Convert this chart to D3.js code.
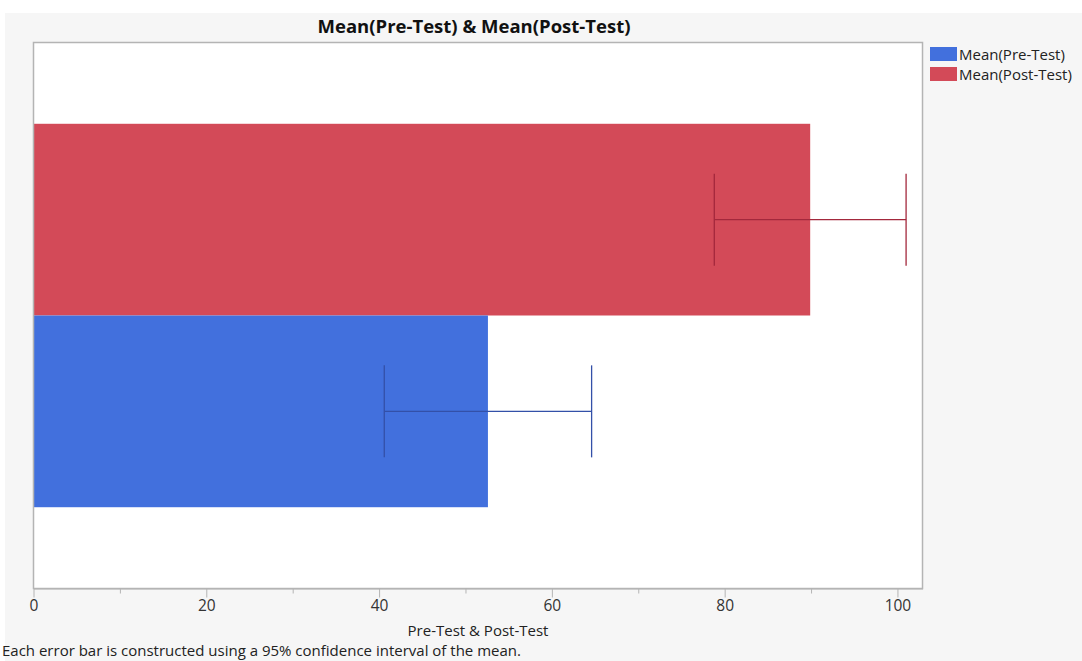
<!DOCTYPE html>
<html>
<head>
<meta charset="utf-8">
<script src="https://cdn.jsdelivr.net/npm/d3@7"></script>
<style>
  html, body { margin: 0; padding: 0; background: #ffffff; }
  svg { display: block; font-family: "Open Sans", "Noto Sans", sans-serif; }
</style>
</head>
<body>
<svg id="chart" width="1082" height="661"></svg>
<script>
// Series and their values
const series = ["Mean(Post-Test)", "Mean(Pre-Test)"];
const legendOrder = ["Mean(Pre-Test)", "Mean(Post-Test)"];
const means = [89.9, 52.6];
const ciLower = [78.8, 40.6];
const ciUpper = [101.0, 64.6];
const xTicks = [0, 20, 40, 60, 80, 100];
const xMinorTicks = [10, 30, 50, 70, 90];
const colors = { "Mean(Pre-Test)": "#4270dd", "Mean(Post-Test)": "#d34a58" };
const errColors = { "Mean(Pre-Test)": "#3350a8", "Mean(Post-Test)": "#a3283c" };

const titleText = "Mean(Pre-Test) & Mean(Post-Test)";
const xAxisTitle = "Pre-Test & Post-Test";
const footnote = "Each error bar is constructed using a 95% confidence interval of the mean.";

const svg = d3.select("#chart");
const W = 1082, H = 661;

// Panel background
svg.append("rect").attr("x", 5).attr("y", 13).attr("width", W - 5).attr("height", H - 13)
  .attr("fill", "#f6f6f6");

const plot = { left: 33.5, top: 42.5, right: 922.5, bottom: 588.5 };

const x = d3.scaleLinear().domain([0, 102.9]).range([plot.left, plot.right]);
const y = d3.scaleBand().domain(series).range([plot.top, plot.bottom])
  .paddingInner(0).paddingOuter(0.424);

// Plot area
svg.append("rect")
  .attr("x", plot.left).attr("y", plot.top)
  .attr("width", plot.right - plot.left).attr("height", plot.bottom - plot.top)
  .attr("fill", "#ffffff");

// Bars
const rows = series.map((s, i) => ({ s, m: means[i], lo: ciLower[i], hi: ciUpper[i] }));
svg.append("g").selectAll("rect").data(rows).join("rect")
  .attr("x", x(0))
  .attr("y", d => y(d.s))
  .attr("width", d => x(d.m) - x(0))
  .attr("height", y.bandwidth())
  .attr("fill", d => colors[d.s]);

// Error bars
const eg = svg.append("g").attr("fill", "none").attr("stroke-width", 1.3);
rows.forEach(d => {
  const cy = y(d.s) + y.bandwidth() / 2;
  const cap = y.bandwidth() * 0.24;
  const c = errColors[d.s];
  eg.append("line").attr("x1", x(d.lo)).attr("x2", x(d.hi)).attr("y1", cy).attr("y2", cy).attr("stroke", c);
  eg.append("line").attr("x1", x(d.lo)).attr("x2", x(d.lo)).attr("y1", cy - cap).attr("y2", cy + cap).attr("stroke", c);
  eg.append("line").attr("x1", x(d.hi)).attr("x2", x(d.hi)).attr("y1", cy - cap).attr("y2", cy + cap).attr("stroke", c);
});

// Frame
svg.append("rect")
  .attr("x", plot.left).attr("y", plot.top)
  .attr("width", plot.right - plot.left).attr("height", plot.bottom - plot.top)
  .attr("fill", "none").attr("stroke", "#b4b4b4").attr("stroke-width", 1.5);

// X axis
const xAxis = d3.axisBottom(x).tickValues(xTicks).tickSize(9).tickSizeOuter(0).tickPadding(2);
const gx = svg.append("g").attr("transform", `translate(0,${plot.bottom})`).call(xAxis);
gx.select(".domain").attr("stroke", "#b4b4b4");
gx.selectAll(".tick line").attr("stroke", "#b4b4b4");
gx.selectAll(".tick text").attr("font-size", 15.5).attr("fill", "#333").attr("font-family", "'Open Sans', sans-serif");

const minor = d3.axisBottom(x).tickValues(xMinorTicks).tickSize(5).tickFormat("");
const gm = svg.append("g").attr("transform", `translate(0,${plot.bottom})`).call(minor);
gm.select(".domain").remove();
gm.selectAll(".tick line").attr("stroke", "#b4b4b4");

// Title
svg.append("text")
  .attr("x", (plot.left + plot.right) / 2 - 4).attr("y", 33)
  .attr("text-anchor", "middle").attr("font-size", 18.5).attr("font-weight", "bold")
  .attr("fill", "#111").text(titleText);

// Axis title
svg.append("text")
  .attr("x", (plot.left + plot.right) / 2).attr("y", 636)
  .attr("text-anchor", "middle").attr("font-size", 15).attr("fill", "#222")
  .text(xAxisTitle);

// Footnote
svg.append("text")
  .attr("x", 2).attr("y", 656)
  .attr("font-size", 15).attr("fill", "#222")
  .text(footnote);

// Legend
const lg = svg.append("g").attr("transform", "translate(930,47)");
legendOrder.forEach((s, i) => {
  const g = lg.append("g").attr("transform", `translate(0,${i * 20})`);
  g.append("rect").attr("x", 0).attr("y", 0).attr("width", 27).attr("height", 14).attr("fill", colors[s]);
  g.append("text").attr("x", 29).attr("y", 13).attr("font-size", 15).attr("fill", "#222").text(s);
});
</script>
</body>
</html>
